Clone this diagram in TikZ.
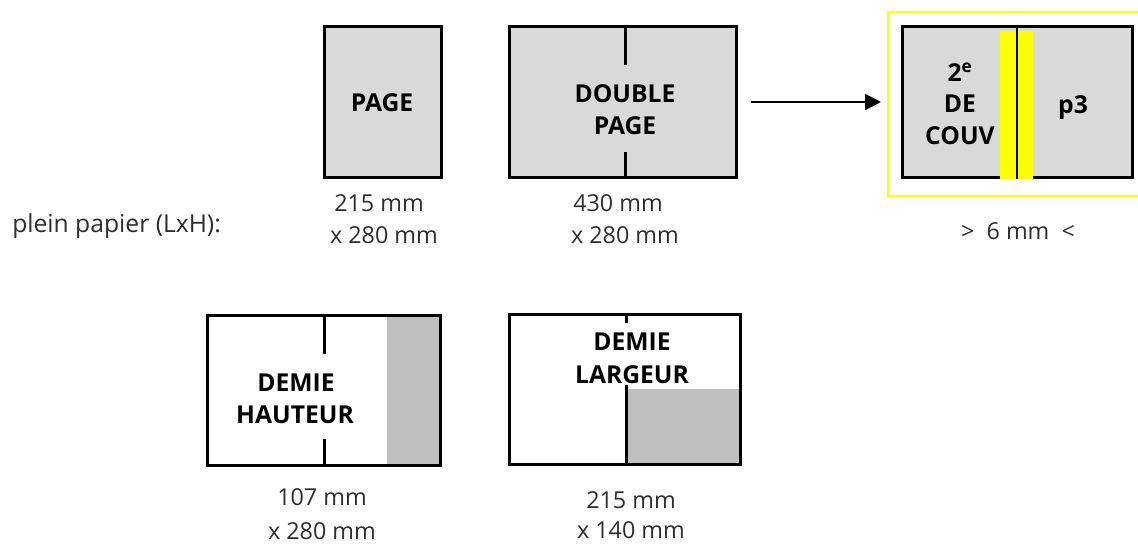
\documentclass[tikz,border=0pt]{standalone}
\usepackage{fontspec}
\setmainfont{Open Sans}
\usetikzlibrary{arrows.meta}
\definecolor{pagegray}{RGB}{217,217,217}
\definecolor{halfgray}{RGB}{191,191,191}
\definecolor{dimgray}{RGB}{45,45,45}
\definecolor{spineyellow}{RGB}{255,255,0}
\begin{document}
\begin{tikzpicture}[x=0.75pt, y=-0.75pt,
    frame/.style={line width=2.25pt},
    fold/.style={line width=2.25pt},
    boxtext/.style={font=\fontsize{18.5}{22}\selectfont\bfseries, anchor=base, inner sep=0pt},
    dimtext/.style={font=\fontsize{17.5}{21}\selectfont, text=dimgray, anchor=base, inner sep=0pt}]
    \useasboundingbox (0,0) rectangle (1138,544);
    % page
    \fill[pagegray] (324,26.5) rectangle (441,177);
    \draw[frame] (324,26.5) rectangle (441,177);
    \node[boxtext] (page) at (382,111) {PAGE};
    % double page
    \fill[pagegray] (509.5,26.5) rectangle (736.5,177);
    \draw[frame] (509.5,26.5) rectangle (736.5,177);
    \draw[fold] (625,26.5) -- (625,65);
    \draw[fold] (625,152) -- (625,177);
    \node[boxtext] (double) at (625,102) {DOUBLE};
    \node[boxtext] (doublepage) at (625,134) {PAGE};
    % cover spread
    \draw[spineyellow, line width=1.5pt] (887.5,11.5) rectangle (1150,195.5);
    \fill[pagegray] (902,26.5) rectangle (1132.5,177.5);
    \draw[frame] (902,26.5) rectangle (1132.5,177.5);
    \fill[spineyellow] (1000,31) rectangle (1016,179);
    \fill[spineyellow] (1018,31) rectangle (1033,179);
    \draw[line width=1.1pt] (1017,25) -- (1017,179);
    \node[boxtext] (deux) at (960,81) {2\textsuperscript{e}};
    \node[boxtext] (de) at (960,112) {DE};
    \node[boxtext] (couv) at (960,144) {COUV};
    \node[boxtext] (pthree) at (1073,113) {p3};
    % arrow
    \coordinate (dblout) at (751,102);
    \coordinate (covin) at (881,102);
    \draw[line width=1.5pt, -{Triangle[length=12pt,width=12pt]}] (dblout) -- (covin);
    % sizes
    \node[dimtext, font=\fontsize{18.5}{22}\selectfont, anchor=base west] (plein) at (12,232) {plein papier (LxH):};
    \node[dimtext] (pagew) at (379,211) {215 mm};
    \node[dimtext] (pageh) at (384,243) {x 280 mm};
    \node[dimtext] (doublew) at (618,211) {430 mm};
    \node[dimtext] (doubleh) at (625,243) {x 280 mm};
    \node[dimtext] (spine) at (1018,239) {>\ \ 6 mm\ \ <};
    % half height
    \fill[halfgray] (387,316) rectangle (440.5,465);
    \draw[frame] (207.5,315.5) rectangle (440.5,465.5);
    \draw[fold] (324,315.5) -- (324,354);
    \draw[fold] (324,439) -- (324,465.5);
    \node[boxtext] (demih) at (296,391) {DEMIE};
    \node[boxtext] (hauteur) at (295,423) {HAUTEUR};
    \node[dimtext] (halfhw) at (322,505) {107 mm};
    \node[dimtext] (halfhh) at (322,539) {x 280 mm};
    % half width
    \fill[halfgray] (626,389) rectangle (740.5,464.5);
    \draw[frame] (509.5,314.5) rectangle (740.5,464.5);
    \draw[fold] (626,314.5) -- (626,323);
    \draw[fold] (626,385) -- (626,464.5);
    \node[boxtext] (demil) at (632,350) {DEMIE};
    \node[boxtext] (largeur) at (632,383) {LARGEUR};
    \node[dimtext] (halfww) at (631,508) {215 mm};
    \node[dimtext] (halfwh) at (631,538) {x 140 mm};
\end{tikzpicture}
\end{document}
